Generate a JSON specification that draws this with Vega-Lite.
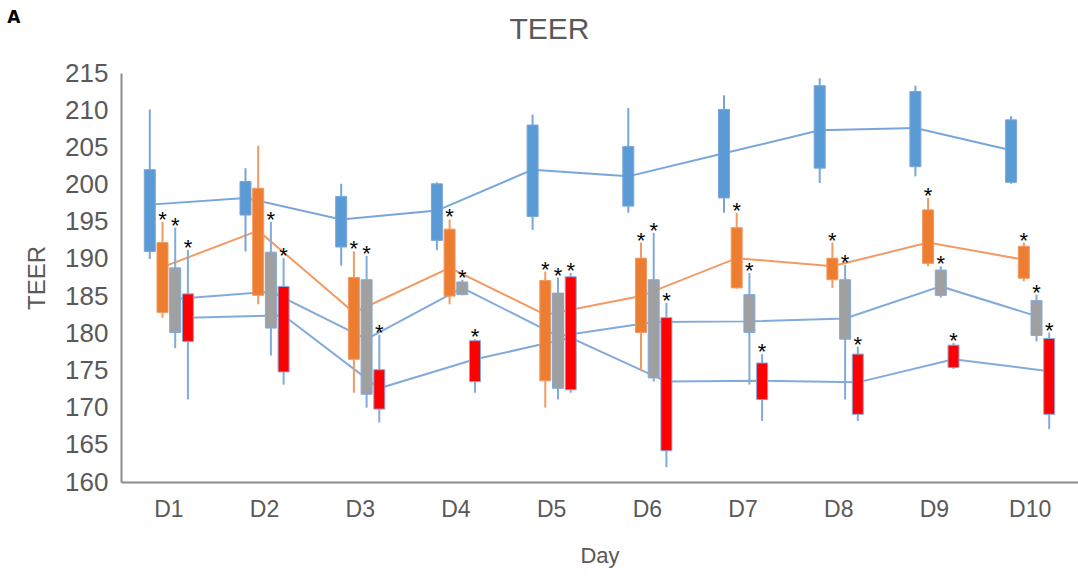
{
  "$schema": "https://vega.github.io/schema/vega-lite/v6.json",
  "autosize": {"type": "none"},
  "width": 957,
  "height": 409,
  "padding": {"left": 121, "top": 73, "right": 0, "bottom": 99},
  "background": "white",
  "config": {
    "view": {"stroke": null},
    "font": "Liberation Sans",
    "axisY": {"labelOverlap": false, "titleFontSize": 24, "titleFontWeight": "normal", "titleColor": "#595959", "titlePadding": 15,
              "labelFontSize": 26, "labelColor": "#595959", "labelPadding": 13, "ticks": false, "domainColor": "#8c8c8c", "domainWidth": 2, "grid": false},
    "axisX": {"titleFontSize": 22, "titleFontWeight": "normal", "titleColor": "#595959", "titlePadding": 24,
              "labelFontSize": 23, "labelColor": "#595959", "labelPadding": 16, "labelAngle": 0,
              "ticks": false, "domainColor": "#8c8c8c", "domainWidth": 2, "grid": false}
  },
  "title": {"text": "TEER", "anchor": "middle", "frame": "group", "dx": -50, "fontSize": 30, "fontWeight": "normal", "color": "#595959", "baseline": "alphabetic", "offset": -60},
  "data": {"values": [
    {"day": "D1", "series": "blue", "min": 190.0, "lo": 191.0, "hi": 202.0, "max": 210.1, "mean": 197.3, "sig": ""},
    {"day": "D1", "series": "orange", "min": 182.1, "lo": 182.8, "hi": 192.2, "max": 195.0, "mean": 188.9, "sig": "*"},
    {"day": "D1", "series": "gray", "min": 178.0, "lo": 180.1, "hi": 188.8, "max": 194.2, "mean": 184.6, "sig": "*"},
    {"day": "D1", "series": "red", "min": 171.1, "lo": 178.9, "hi": 185.3, "max": 191.2, "mean": 182.1, "sig": "*"},
    {"day": "D2", "series": "blue", "min": 191.0, "lo": 195.9, "hi": 200.4, "max": 202.2, "mean": 198.2, "sig": ""},
    {"day": "D2", "series": "orange", "min": 183.9, "lo": 185.1, "hi": 199.5, "max": 205.2, "mean": 193.8, "sig": ""},
    {"day": "D2", "series": "gray", "min": 177.0, "lo": 180.7, "hi": 190.9, "max": 195.0, "mean": 185.6, "sig": "*"},
    {"day": "D2", "series": "red", "min": 173.1, "lo": 174.8, "hi": 186.3, "max": 190.1, "mean": 182.4, "sig": "*"},
    {"day": "D3", "series": "blue", "min": 189.1, "lo": 191.6, "hi": 198.4, "max": 200.1, "mean": 195.3, "sig": ""},
    {"day": "D3", "series": "orange", "min": 172.0, "lo": 176.5, "hi": 187.5, "max": 191.0, "mean": 182.8, "sig": "*"},
    {"day": "D3", "series": "gray", "min": 170.0, "lo": 171.8, "hi": 187.2, "max": 190.4, "mean": 179.2, "sig": "*"},
    {"day": "D3", "series": "red", "min": 168.0, "lo": 169.8, "hi": 175.1, "max": 179.8, "mean": 172.6, "sig": "*"},
    {"day": "D4", "series": "blue", "min": 191.2, "lo": 192.5, "hi": 200.1, "max": 200.3, "mean": 196.5, "sig": ""},
    {"day": "D4", "series": "orange", "min": 183.9, "lo": 185.0, "hi": 194.0, "max": 195.3, "mean": 188.8, "sig": "*"},
    {"day": "D4", "series": "gray", "min": 185.1, "lo": 185.2, "hi": 186.9, "max": 187.2, "mean": 186.1, "sig": "*"},
    {"day": "D4", "series": "red", "min": 172.0, "lo": 173.5, "hi": 179.0, "max": 179.2, "mean": 176.5, "sig": "*"},
    {"day": "D5", "series": "blue", "min": 193.9, "lo": 195.7, "hi": 208.0, "max": 209.4, "mean": 202.0, "sig": ""},
    {"day": "D5", "series": "orange", "min": 170.0, "lo": 173.6, "hi": 187.1, "max": 188.3, "mean": 182.5, "sig": "*"},
    {"day": "D5", "series": "gray", "min": 171.1, "lo": 172.6, "hi": 185.4, "max": 187.5, "mean": 179.6, "sig": "*"},
    {"day": "D5", "series": "red", "min": 172.0, "lo": 172.4, "hi": 187.6, "max": 188.1, "mean": 179.4, "sig": "*"},
    {"day": "D6", "series": "blue", "min": 196.2, "lo": 197.1, "hi": 205.1, "max": 210.3, "mean": 201.1, "sig": ""},
    {"day": "D6", "series": "orange", "min": 174.9, "lo": 180.1, "hi": 190.1, "max": 192.2, "mean": 185.0, "sig": "*"},
    {"day": "D6", "series": "gray", "min": 173.5, "lo": 174.0, "hi": 187.2, "max": 193.5, "mean": 181.5, "sig": "*"},
    {"day": "D6", "series": "red", "min": 162.0, "lo": 164.2, "hi": 182.1, "max": 184.1, "mean": 173.5, "sig": "*"},
    {"day": "D7", "series": "blue", "min": 196.2, "lo": 198.2, "hi": 210.1, "max": 212.0, "mean": 204.2, "sig": ""},
    {"day": "D7", "series": "orange", "min": 186.0, "lo": 186.1, "hi": 194.2, "max": 196.2, "mean": 190.1, "sig": "*"},
    {"day": "D7", "series": "gray", "min": 173.1, "lo": 180.1, "hi": 185.2, "max": 188.1, "mean": 181.6, "sig": "*"},
    {"day": "D7", "series": "red", "min": 168.2, "lo": 171.1, "hi": 176.0, "max": 177.2, "mean": 173.6, "sig": "*"},
    {"day": "D8", "series": "blue", "min": 200.2, "lo": 202.2, "hi": 213.3, "max": 214.3, "mean": 207.3, "sig": ""},
    {"day": "D8", "series": "orange", "min": 186.1, "lo": 187.2, "hi": 190.1, "max": 192.2, "mean": 189.0, "sig": "*"},
    {"day": "D8", "series": "gray", "min": 171.1, "lo": 179.2, "hi": 187.2, "max": 189.2, "mean": 182.0, "sig": "*"},
    {"day": "D8", "series": "red", "min": 168.2, "lo": 169.1, "hi": 177.2, "max": 178.2, "mean": 173.4, "sig": "*"},
    {"day": "D9", "series": "blue", "min": 201.1, "lo": 202.4, "hi": 212.5, "max": 213.3, "mean": 207.6, "sig": ""},
    {"day": "D9", "series": "orange", "min": 189.0, "lo": 189.4, "hi": 196.6, "max": 198.2, "mean": 192.2, "sig": "*"},
    {"day": "D9", "series": "gray", "min": 184.8, "lo": 185.1, "hi": 188.5, "max": 189.0, "mean": 186.3, "sig": "*"},
    {"day": "D9", "series": "red", "min": 175.2, "lo": 175.4, "hi": 178.4, "max": 178.7, "mean": 176.5, "sig": "*"},
    {"day": "D10", "series": "blue", "min": 200.1, "lo": 200.3, "hi": 208.7, "max": 209.2, "mean": 204.6, "sig": ""},
    {"day": "D10", "series": "orange", "min": 187.0, "lo": 187.4, "hi": 191.7, "max": 192.2, "mean": 189.9, "sig": "*"},
    {"day": "D10", "series": "gray", "min": 178.9, "lo": 179.7, "hi": 184.4, "max": 185.2, "mean": 182.3, "sig": "*"},
    {"day": "D10", "series": "red", "min": 167.1, "lo": 169.1, "hi": 179.3, "max": 180.1, "mean": 174.9, "sig": "*"}
  ]},
  "layer": [
    {
      "mark": {"type": "line", "strokeWidth": 2},
      "encoding": {
        "x": {"field": "day", "type": "nominal", "sort": ["D1","D2","D3","D4","D5","D6","D7","D8","D9","D10"],
              "scale": {"paddingInner": 0.469, "paddingOuter": 0.2345}, "axis": {"title": "Day"}},
        "xOffset": {"field": "series", "type": "nominal", "sort": ["blue","orange","gray","red"], "scale": {"paddingInner": 0, "paddingOuter": 0}},
        "y": {"field": "mean", "type": "quantitative",
              "scale": {"domain": [160, 215], "nice": false, "zero": false},
              "axis": {"title": "TEER", "values": [160,165,170,175,180,185,190,195,200,205,210,215], "labelOverlap": false, "tickCount": 12}},
        "stroke": {"field": "series", "type": "nominal", "legend": null,
                   "scale": {"domain": ["blue","orange","gray","red"], "range": ["#78a6da","#f29a63","#82abdc","#82abdc"]}},
        "detail": {"field": "series"}
      }
    },
    {
      "mark": {"type": "rule", "strokeWidth": 2},
      "encoding": {
        "x": {"field": "day", "type": "nominal", "sort": ["D1","D2","D3","D4","D5","D6","D7","D8","D9","D10"], "axis": {"title": "Day"}},
        "xOffset": {"field": "series", "type": "nominal", "sort": ["blue","orange","gray","red"]},
        "y": {"field": "min", "type": "quantitative", "axis": {"title": "TEER", "values": [160,165,170,175,180,185,190,195,200,205,210,215], "labelOverlap": false, "tickCount": 12}},
        "y2": {"field": "max"},
        "stroke": {"field": "series", "type": "nominal", "legend": null}
      }
    },
    {
      "mark": {"type": "bar", "width": 11, "strokeWidth": 1},
      "encoding": {
        "x": {"field": "day", "type": "nominal", "sort": ["D1","D2","D3","D4","D5","D6","D7","D8","D9","D10"], "axis": {"title": "Day"}},
        "xOffset": {"field": "series", "type": "nominal", "sort": ["blue","orange","gray","red"]},
        "y": {"field": "lo", "type": "quantitative", "axis": {"title": "TEER", "values": [160,165,170,175,180,185,190,195,200,205,210,215], "labelOverlap": false, "tickCount": 12}},
        "y2": {"field": "hi"},
        "fill": {"field": "series", "type": "nominal", "legend": null,
                 "scale": {"domain": ["blue","orange","gray","red"], "range": ["#5b9bd5","#ed7d31","#a0a0a0","#ff0000"]}},
        "stroke": {"field": "series", "type": "nominal", "legend": null}
      }
    },
    {
      "transform": [{"filter": "datum.sig == '*'"}],
      "mark": {"type": "text", "fontSize": 22, "color": "#000000", "baseline": "alphabetic", "dy": 5},
      "encoding": {
        "x": {"field": "day", "type": "nominal", "sort": ["D1","D2","D3","D4","D5","D6","D7","D8","D9","D10"], "axis": {"title": "Day"}},
        "xOffset": {"field": "series", "type": "nominal", "sort": ["blue","orange","gray","red"]},
        "y": {"field": "max", "type": "quantitative", "axis": {"title": "TEER", "values": [160,165,170,175,180,185,190,195,200,205,210,215], "labelOverlap": false, "tickCount": 12}},
        "text": {"field": "sig"}
      }
    },
    {
      "data": {"values": [{"t": "A"}]},
      "mark": {"type": "text", "fontSize": 17, "fontWeight": "bold", "font": "DejaVu Sans", "color": "#000000", "baseline": "middle", "align": "center", "dx": -155},
      "encoding": {
        "x": {"datum": "D1", "axis": {"title": "Day"}},
        "y": {"datum": 222.4, "axis": {"title": "TEER", "values": [160,165,170,175,180,185,190,195,200,205,210,215], "labelOverlap": false, "tickCount": 12}},
        "text": {"field": "t"}
      }
    }
  ]
}
